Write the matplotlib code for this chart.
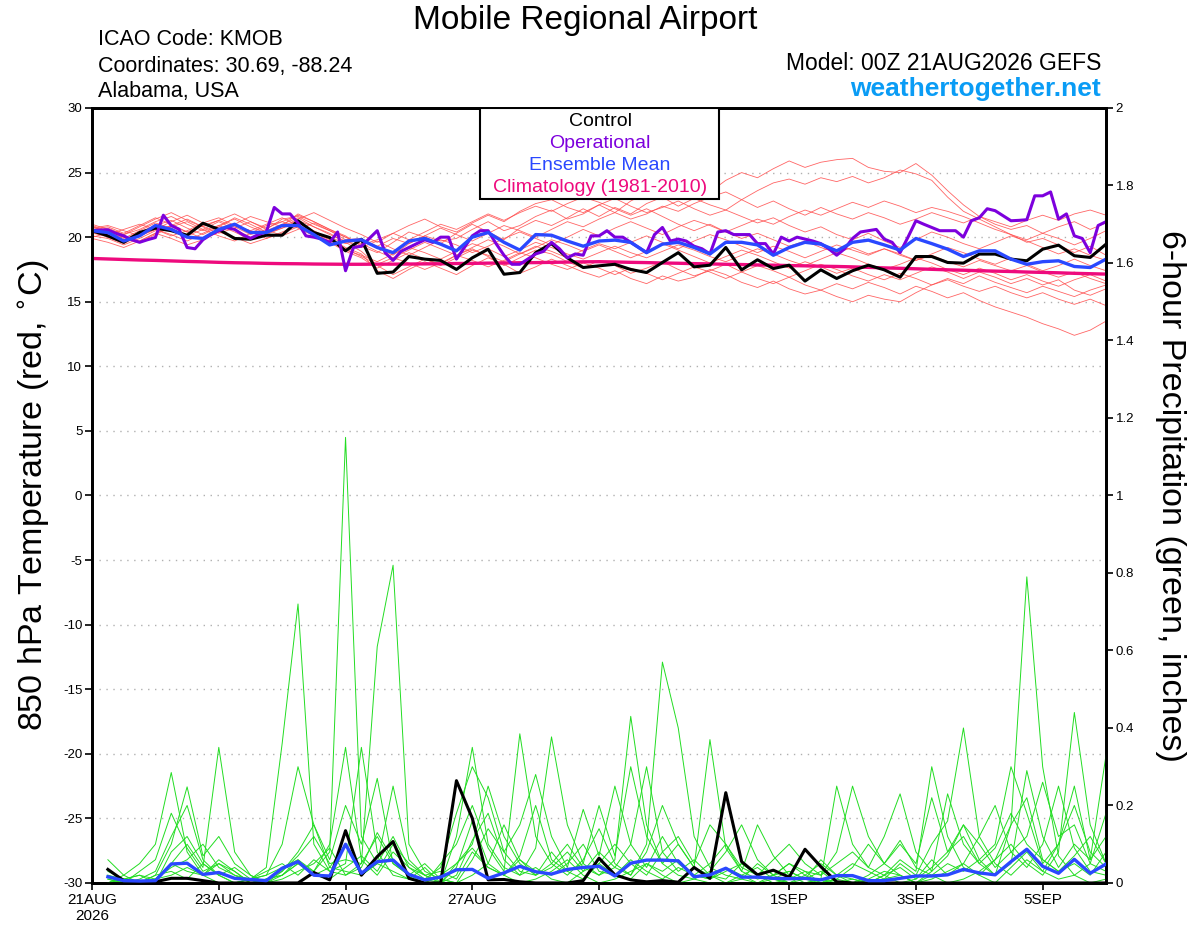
import numpy as np
import matplotlib
matplotlib.use("Agg")
import matplotlib.pyplot as plt
from matplotlib.patches import Rectangle

plt.rcParams['font.family'] = ['Liberation Sans', 'DejaVu Sans']

# forecast hours, 6-hourly (ensemble) and 3-hourly (operational)
hours = np.arange(0, 385, 6)
op_hours = np.arange(0, 385, 3)
precip_hours = hours[1:]

tick_hours = [0, 48, 96, 144, 192, 264, 312, 360]
tick_labels = ["21AUG\n2026", "23AUG", "25AUG", "27AUG", "29AUG", "1SEP", "3SEP", "5SEP"]

# 850 hPa temperature (C)
control_t = [20.5, 20.1, 19.6, 20.36, 20.7, 20.5, 20.15, 21.08, 20.6, 19.9, 19.84, 20.15, 20.15,
             21.27, 20.36, 19.97, 18.94, 19.84, 17.2, 17.3, 18.5, 18.3, 18.2, 17.5, 18.4, 19.07,
             17.13, 17.26, 18.8, 19.5, 18.4, 17.65, 17.78, 17.9, 17.5, 17.26, 18.04, 18.8, 17.7,
             17.83, 19.2, 17.47, 18.25, 17.57, 17.83, 16.6, 17.47, 16.8, 17.4, 17.83, 17.47, 16.9,
             18.5, 18.5, 18.04, 17.99, 18.69, 18.69, 18.3, 18.17, 19.07, 19.38, 18.56, 18.43, 19.46]

mean_t = [20.5, 20.36, 19.7, 20.1, 20.9, 20.6, 20.0, 19.9, 20.6, 21.0, 20.36, 20.36, 20.9, 20.9,
          20.2, 19.4, 19.7, 19.8, 19.2, 18.8, 19.7, 19.9, 19.46, 18.94, 20.0, 20.36, 19.6, 19.0,
          20.2, 20.15, 19.7, 19.3, 19.7, 19.77, 19.6, 18.8, 19.46, 19.6, 19.2, 18.7, 19.6, 19.6,
          19.4, 18.6, 19.2, 19.6, 19.46, 18.94, 19.6, 19.77, 19.4, 19.0, 19.9, 19.5, 19.07, 18.5,
          18.94, 18.94, 18.3, 17.9, 18.1, 18.17, 17.73, 17.65, 18.3]

clim_t = [18.35, 18.31, 18.27, 18.23, 18.2, 18.16, 18.12, 18.09, 18.05, 18.02, 18.0, 17.97, 17.95,
          17.94, 17.92, 17.91, 17.9, 17.9, 17.91, 17.91, 17.92, 17.93, 17.94, 17.96, 17.97, 17.99,
          18.0, 18.02, 18.03, 18.05, 18.07, 18.09, 18.1, 18.08, 18.05, 18.03, 18.0, 17.98, 17.95,
          17.93, 17.9, 17.88, 17.85, 17.83, 17.8, 17.78, 17.75, 17.73, 17.7, 17.66, 17.62, 17.59,
          17.55, 17.51, 17.47, 17.44, 17.4, 17.37, 17.34, 17.3, 17.27, 17.24, 17.2, 17.17, 17.14]

oper_t = [20.5, 20.55, 20.57, 20.3, 20.1, 19.8, 19.6, 19.8, 19.97, 21.7, 20.9, 20.6, 19.2, 19.1,
          19.8, 20.2, 20.5, 20.75, 20.6, 20.2, 19.9, 20.2, 20.4, 22.3, 21.8, 21.8, 21.1, 20.1, 20.0,
          19.85, 19.6, 20.4, 17.4, 19.2, 19.3, 19.9, 20.5, 18.8, 18.2, 18.9, 19.2, 19.5, 19.8, 19.6,
          20.0, 20.0, 18.3, 19.2, 20.1, 20.5, 20.5, 19.5, 18.6, 17.9, 17.9, 18.3, 18.7, 18.9, 19.6,
          19.1, 18.4, 18.7, 18.6, 20.1, 20.1, 20.5, 20.0, 20.0, 19.6, 19.2, 18.8, 20.2, 20.75, 19.7,
          19.85, 19.7, 19.3, 19.1, 18.7, 20.4, 20.5, 20.2, 20.2, 20.2, 19.5, 19.5, 18.7, 20.0, 19.7,
          20.0, 19.85, 19.7, 19.5, 19.1, 18.6, 19.1, 19.9, 20.4, 20.5, 20.6, 19.85, 19.6, 18.8, 20.0,
          21.27, 21.0, 20.75, 20.5, 20.5, 20.5, 20.0, 21.27, 21.5, 22.2, 22.05, 21.66, 21.27, 21.3,
          21.35, 23.2, 23.2, 23.5, 21.4, 21.8, 20.1, 19.9, 18.8, 20.9, 21.2]

# ensemble member temperatures
temp_m01 = [20.6, 20.8, 20.3, 20.9, 21.5, 21.0, 20.4, 20.9, 21.3, 20.8, 20.2, 20.6, 21.4, 21.6, 21.0, 20.5, 19.8,
            19.9, 19.2, 18.6, 19.5, 20.1, 19.7, 19.9, 20.6, 21.2, 20.5, 20.9, 21.6, 22.1, 21.4, 21.8, 22.5,
            21.9, 22.8, 23.4, 22.9, 23.6, 24.1, 23.5, 24.4, 25.0, 24.6, 25.3, 25.9, 25.4, 25.8, 26.0, 26.1,
            25.4, 25.1, 25.0, 25.7, 24.8, 23.6, 22.5, 21.6, 21.0, 20.6, 20.9, 20.3, 20.8, 21.2, 20.6, 21.1]
temp_m02 = [20.3, 20.1, 19.8, 20.4, 20.9, 21.3, 20.7, 20.2, 20.8, 21.5, 21.0, 20.4, 20.9, 21.8, 21.2, 20.6, 20.1,
            19.3, 18.8, 19.6, 20.4, 20.0, 19.5, 20.3, 21.0, 20.4, 19.8, 20.7, 21.3, 20.9, 21.5, 22.2, 21.6,
            22.3, 21.8, 22.6, 23.1, 22.4, 23.0, 22.5, 22.1, 22.9, 23.6, 24.2, 24.5, 24.1, 24.6, 24.3, 24.7,
            24.2, 24.6, 25.2, 24.9, 24.4, 23.1, 22.0, 21.4, 20.8, 20.2, 19.6, 19.9, 19.4, 18.8, 19.3, 18.6]
temp_m03 = [20.9, 20.5, 20.0, 19.6, 20.2, 20.8, 21.2, 20.6, 20.1, 19.7, 20.3, 20.9, 21.2, 20.7, 20.1, 19.6, 18.9,
            18.4, 17.6, 18.2, 18.8, 18.3, 17.9, 18.6, 19.1, 18.5, 17.8, 18.4, 19.0, 18.7, 18.1, 17.6, 18.2,
            17.8, 17.2, 17.6, 18.1, 17.5, 17.0, 17.4, 17.9, 17.3, 16.8, 16.4, 16.9, 16.3, 15.9, 16.4, 16.0,
            16.5, 16.1, 15.6, 16.2, 15.8, 15.3, 15.7, 15.1, 14.6, 14.2, 13.8, 13.3, 12.9, 12.4, 12.8, 13.5]
temp_m04 = [20.4, 20.0, 19.5, 20.1, 20.6, 20.2, 19.7, 20.3, 20.9, 20.4, 19.8, 20.2, 20.7, 21.1, 20.5, 19.9, 19.2,
            18.7, 17.4, 16.8, 17.5, 18.1, 17.6, 17.1, 17.8, 18.4, 17.9, 17.2, 17.7, 18.3, 17.8, 17.3, 16.9,
            17.4, 16.8, 16.4, 17.0, 16.6, 16.9, 17.5, 17.1, 16.5, 16.1, 16.6, 16.0, 15.6, 15.9, 15.4, 15.0,
            15.5, 15.2, 15.0, 15.7, 16.3, 16.8, 16.4, 17.0, 16.5, 16.1, 15.7, 16.2, 15.8, 15.4, 15.9, 16.3]
temp_m05 = [20.7, 20.9, 20.5, 20.1, 20.6, 21.2, 21.7, 21.1, 20.6, 21.0, 21.6, 21.2, 20.8, 21.4, 21.9, 21.3, 20.7,
            20.2, 19.6, 20.3, 20.9, 21.4, 20.8, 20.4, 21.1, 21.7, 21.2, 22.0, 22.6, 22.9, 22.3, 21.9, 22.5,
            23.0, 22.4, 21.9, 22.3, 22.8, 22.2, 21.7, 22.1, 21.6, 21.1, 21.5, 20.9, 20.4, 20.8, 20.2, 19.8,
            20.3, 19.7, 19.2, 19.8, 20.4, 20.0, 19.5, 19.1, 19.6, 20.1, 19.7, 19.2, 18.7, 19.1, 18.6, 18.2]
temp_m06 = [20.1, 19.9, 19.4, 19.9, 20.5, 20.9, 20.4, 19.9, 20.4, 20.9, 20.5, 19.9, 20.3, 20.8, 20.2, 19.7, 19.0,
            18.6, 18.1, 18.7, 19.2, 18.8, 18.3, 18.9, 19.5, 19.1, 18.5, 19.0, 19.6, 19.2, 18.7, 18.3, 18.8,
            19.3, 18.8, 18.4, 18.9, 19.4, 19.0, 18.5, 18.1, 18.6, 19.1, 18.7, 18.2, 17.8, 18.3, 18.8, 18.4,
            17.9, 17.5, 17.9, 18.4, 18.0, 17.5, 17.1, 17.6, 17.2, 16.7, 17.1, 16.6, 16.2, 16.7, 17.1, 16.6]
temp_m07 = [20.5, 20.2, 20.6, 21.0, 20.6, 20.1, 20.5, 21.1, 21.5, 20.9, 20.5, 21.0, 21.5, 20.9, 20.4, 20.0, 19.5,
            19.8, 19.3, 19.9, 19.5, 20.1, 20.7, 20.2, 19.7, 20.3, 20.9, 20.5, 20.0, 20.6, 21.2, 20.8, 21.4,
            21.9, 21.4, 21.8, 22.4, 22.0, 22.6, 23.1, 23.5, 22.9, 22.3, 22.8, 22.2, 21.7, 22.3, 21.8, 21.4,
            21.9, 21.5, 21.0, 21.4, 21.9, 21.5, 21.1, 21.6, 21.2, 20.8, 21.3, 21.7, 21.3, 21.8, 22.1, 21.7]
temp_m08 = [20.8, 20.4, 19.9, 20.5, 21.1, 20.7, 20.1, 20.6, 21.2, 20.6, 20.0, 20.5, 21.0, 21.5, 20.8, 20.3, 19.6,
            18.9, 17.8, 17.1, 17.7, 18.3, 17.8, 18.4, 19.0, 18.6, 18.1, 18.7, 19.3, 18.9, 18.4, 19.0, 19.5,
            19.1, 19.6, 20.1, 19.6, 19.1, 19.7, 20.2, 19.8, 19.3, 18.8, 19.3, 18.9, 18.4, 18.9, 19.4, 19.0,
            18.6, 19.1, 18.7, 18.2, 18.7, 19.2, 18.8, 18.3, 17.9, 18.4, 17.9, 17.4, 17.8, 18.3, 17.8, 17.4]
temp_m09 = [20.0, 20.3, 20.0, 19.7, 20.3, 20.9, 21.4, 20.8, 20.3, 20.7, 21.2, 20.6, 20.1, 20.6, 21.1, 20.5, 20.0,
            19.5, 18.9, 18.4, 19.0, 19.6, 19.1, 18.6, 19.2, 19.8, 19.3, 18.7, 19.2, 19.8, 19.4, 18.9, 19.4,
            18.9, 18.4, 18.9, 19.5, 19.0, 18.5, 18.0, 18.5, 19.0, 18.6, 18.1, 17.6, 18.1, 17.7, 17.2, 17.6,
            17.1, 16.7, 17.2, 16.8, 16.3, 16.7, 16.2, 15.8, 16.2, 15.7, 15.3, 15.7, 15.2, 14.8, 15.2, 14.7]
temp_m10 = [20.4, 20.7, 20.2, 20.6, 21.2, 21.6, 21.0, 20.5, 20.9, 21.4, 20.8, 20.3, 20.7, 21.3, 20.8, 20.2, 19.7,
            19.2, 19.7, 19.1, 18.6, 19.2, 19.8, 19.4, 18.8, 19.3, 19.9, 20.4, 19.9, 19.4, 20.0, 20.6, 20.1,
            20.7, 21.2, 20.7, 20.2, 20.8, 21.3, 20.9, 20.4, 20.9, 21.4, 21.0, 21.6, 22.1, 21.7, 22.2, 22.7,
            22.3, 22.8, 22.4, 21.9, 22.3, 22.0, 21.6, 21.1, 20.6, 20.2, 19.8, 20.3, 19.9, 19.4, 19.9, 20.5]
temp_m11 = [19.9, 19.6, 19.2, 19.7, 20.3, 19.9, 19.4, 19.8, 20.4, 20.0, 19.5, 19.9, 20.4, 20.9, 20.3, 19.8, 19.1,
            18.5, 17.9, 18.4, 18.0, 17.5, 18.0, 18.6, 18.2, 17.7, 18.2, 18.8, 18.4, 17.9, 17.5, 18.0, 17.6,
            17.1, 17.6, 17.2, 16.7, 17.2, 17.7, 17.3, 16.8, 17.3, 17.8, 17.4, 16.9, 17.4, 17.9, 17.5, 17.0,
            16.6, 17.1, 16.7, 17.2, 17.7, 17.3, 16.8, 17.3, 16.9, 16.4, 16.8, 16.3, 16.7, 15.9, 15.5, 16.0]
temp_m12 = [21.0, 20.6, 20.2, 20.8, 21.4, 21.9, 21.3, 20.8, 21.3, 21.8, 21.2, 20.7, 21.2, 21.7, 21.2, 20.6, 20.0,
            19.4, 19.8, 20.3, 19.8, 20.4, 21.0, 20.6, 21.2, 21.8, 21.3, 21.9, 22.4, 22.0, 22.6, 23.1, 22.7,
            22.2, 21.7, 22.2, 21.6, 21.0, 20.5, 21.0, 20.4, 19.9, 20.3, 19.8, 19.3, 19.7, 19.2, 18.8, 19.2,
            18.7, 19.1, 18.6, 18.2, 18.6, 18.1, 17.7, 18.2, 17.8, 17.4, 17.8, 17.3, 16.9, 17.3, 16.8, 16.4]

# 6-hour precipitation (inches), from hour 6
control_p = [0.035, 0.006, 0.003, 0.003, 0.012, 0.012, 0.006, 0.0, 0.0, 0.0, 0.0, 0.0, 0.0, 0.027, 0.008,
             0.135, 0.02, 0.068, 0.107, 0.012, 0.0, 0.0, 0.264, 0.167, 0.008, 0.009, 0.003, 0.0, 0.0, 0.0,
             0.006, 0.064, 0.021, 0.008, 0.003, 0.006, 0.002, 0.04, 0.012, 0.233, 0.055, 0.021, 0.033,
             0.015, 0.087, 0.042, 0.003, 0.0, 0.0, 0.0, 0.0, 0.0, 0.0, 0.0, 0.0, 0.0, 0.0, 0.0, 0.0, 0.0,
             0.0, 0.0, 0.0, 0.0]

mean_p = [0.016, 0.006, 0.005, 0.006, 0.049, 0.051, 0.022, 0.027, 0.012, 0.009, 0.006, 0.038, 0.055,
          0.02, 0.018, 0.1, 0.025, 0.055, 0.059, 0.022, 0.008, 0.015, 0.034, 0.035, 0.012, 0.026, 0.043,
          0.029, 0.023, 0.035, 0.04, 0.043, 0.018, 0.051, 0.059, 0.059, 0.057, 0.016, 0.021, 0.038, 0.015,
          0.015, 0.012, 0.011, 0.012, 0.008, 0.019, 0.019, 0.006, 0.006, 0.012, 0.018, 0.018, 0.021,
          0.035, 0.026, 0.021, 0.055, 0.087, 0.043, 0.025, 0.061, 0.025, 0.049]

precip_m01 = [0.02, 0.0, 0.0, 0.01, 0.05, 0.03, 0.02, 0.0, 0.0, 0.01, 0.02, 0.04, 0.06, 0.03, 0.08, 1.15,
              0.12, 0.05, 0.03, 0.01, 0.0, 0.02, 0.05, 0.09, 0.04, 0.02, 0.0, 0.01, 0.03, 0.06, 0.02, 0.0,
              0.01, 0.03, 0.05, 0.02, 0.0, 0.01, 0.0, 0.0, 0.02, 0.04, 0.01, 0.0, 0.0, 0.01, 0.0, 0.0,
              0.0, 0.01, 0.02, 0.0, 0.01, 0.03, 0.05, 0.02, 0.0, 0.04, 0.08, 0.03, 0.01, 0.02, 0.0, 0.01]
precip_m02 = [0.0, 0.01, 0.02, 0.0, 0.08, 0.12, 0.05, 0.02, 0.0, 0.01, 0.04, 0.36, 0.72, 0.1, 0.03, 0.05,
              0.35, 0.08, 0.02, 0.01, 0.04, 0.0, 0.02, 0.11, 0.18, 0.06, 0.02, 0.04, 0.01, 0.0, 0.03, 0.08,
              0.04, 0.02, 0.1, 0.57, 0.4, 0.12, 0.04, 0.02, 0.01, 0.0, 0.02, 0.05, 0.03, 0.0, 0.01, 0.0,
              0.02, 0.05, 0.11, 0.04, 0.02, 0.0, 0.01, 0.03, 0.06, 0.15, 0.79, 0.3, 0.07, 0.02, 0.05, 0.03]
precip_m03 = [0.01, 0.0, 0.03, 0.06, 0.18, 0.09, 0.03, 0.05, 0.02, 0.0, 0.01, 0.03, 0.07, 0.12, 0.05, 0.06,
              0.05, 0.61, 0.82, 0.1, 0.03, 0.01, 0.0, 0.06, 0.14, 0.08, 0.03, 0.02, 0.05, 0.1, 0.04, 0.02,
              0.06, 0.43, 0.15, 0.05, 0.02, 0.01, 0.03, 0.08, 0.15, 0.06, 0.02, 0.0, 0.01, 0.03, 0.0, 0.01,
              0.0, 0.02, 0.06, 0.03, 0.3, 0.12, 0.04, 0.02, 0.06, 0.1, 0.05, 0.02, 0.08, 0.44, 0.15, 0.05]
precip_m04 = [0.06, 0.02, 0.0, 0.01, 0.05, 0.1, 0.04, 0.35, 0.08, 0.02, 0.0, 0.01, 0.03, 0.05, 0.09, 0.02,
              0.04, 0.13, 0.06, 0.02, 0.0, 0.05, 0.1, 0.2, 0.09, 0.03, 0.385, 0.12, 0.05, 0.02, 0.06, 0.14,
              0.05, 0.02, 0.08, 0.2, 0.1, 0.04, 0.37, 0.09, 0.03, 0.01, 0.02, 0.05, 0.02, 0.0, 0.01, 0.04,
              0.1, 0.05, 0.02, 0.0, 0.03, 0.07, 0.15, 0.06, 0.02, 0.05, 0.29, 0.12, 0.04, 0.1, 0.06, 0.33]
precip_m05 = [0.0, 0.02, 0.05, 0.1, 0.285, 0.08, 0.02, 0.05, 0.03, 0.0, 0.01, 0.02, 0.05, 0.03, 0.1, 0.35,
              0.06, 0.02, 0.08, 0.04, 0.01, 0.0, 0.12, 0.35, 0.1, 0.04, 0.02, 0.09, 0.377, 0.15, 0.05, 0.02,
              0.04, 0.1, 0.3, 0.08, 0.03, 0.06, 0.02, 0.0, 0.01, 0.05, 0.02, 0.03, 0.01, 0.0, 0.02, 0.05,
              0.03, 0.01, 0.05, 0.02, 0.1, 0.16, 0.4, 0.12, 0.05, 0.02, 0.06, 0.03, 0.1, 0.2, 0.08, 0.04]
precip_m06 = [0.03, 0.01, 0.0, 0.02, 0.1, 0.248, 0.07, 0.12, 0.05, 0.02, 0.0, 0.03, 0.08, 0.15, 0.04, 0.1,
              0.02, 0.05, 0.25, 0.06, 0.02, 0.0, 0.04, 0.16, 0.05, 0.02, 0.07, 0.2, 0.06, 0.03, 0.01, 0.05,
              0.02, 0.06, 0.03, 0.01, 0.04, 0.02, 0.05, 0.1, 0.03, 0.15, 0.07, 0.02, 0.0, 0.01, 0.25, 0.1,
              0.04, 0.12, 0.23, 0.08, 0.03, 0.23, 0.1, 0.05, 0.02, 0.15, 0.22, 0.06, 0.03, 0.07, 0.12, 0.05]
precip_m07 = [0.0, 0.01, 0.02, 0.01, 0.04, 0.06, 0.1, 0.04, 0.02, 0.01, 0.0, 0.02, 0.06, 0.02, 0.01, 0.04,
              0.07, 0.03, 0.1, 0.05, 0.02, 0.03, 0.01, 0.08, 0.04, 0.02, 0.06, 0.03, 0.02, 0.05, 0.1, 0.03,
              0.02, 0.01, 0.05, 0.03, 0.06, 0.02, 0.01, 0.03, 0.05, 0.02, 0.0, 0.01, 0.03, 0.02, 0.05, 0.08,
              0.04, 0.02, 0.0, 0.01, 0.04, 0.08, 0.12, 0.05, 0.09, 0.18, 0.1, 0.06, 0.03, 0.05, 0.02, 0.08]
precip_m08 = [0.01, 0.0, 0.0, 0.02, 0.03, 0.01, 0.05, 0.02, 0.0, 0.01, 0.03, 0.05, 0.02, 0.06, 0.03, 0.02,
              0.05, 0.12, 0.05, 0.02, 0.01, 0.04, 0.18, 0.3, 0.22, 0.08, 0.15, 0.28, 0.12, 0.04, 0.19, 0.07,
              0.25, 0.1, 0.04, 0.12, 0.05, 0.02, 0.01, 0.04, 0.02, 0.0, 0.01, 0.03, 0.01, 0.06, 0.02, 0.01,
              0.0, 0.02, 0.04, 0.01, 0.06, 0.02, 0.05, 0.12, 0.2, 0.08, 0.04, 0.1, 0.25, 0.09, 0.03, 0.02]
precip_m09 = [0.0, 0.0, 0.01, 0.03, 0.12, 0.2, 0.06, 0.02, 0.04, 0.01, 0.02, 0.1, 0.3, 0.15, 0.06, 0.2,
              0.1, 0.27, 0.05, 0.02, 0.05, 0.01, 0.0, 0.02, 0.05, 0.15, 0.06, 0.02, 0.08, 0.03, 0.05, 0.2,
              0.07, 0.3, 0.12, 0.05, 0.1, 0.04, 0.02, 0.01, 0.05, 0.02, 0.01, 0.0, 0.02, 0.05, 0.02, 0.0,
              0.01, 0.03, 0.02, 0.0, 0.02, 0.05, 0.03, 0.06, 0.1, 0.3, 0.18, 0.05, 0.1, 0.25, 0.06, 0.12]
precip_m10 = [0.02, 0.01, 0.0, 0.01, 0.02, 0.04, 0.02, 0.06, 0.03, 0.0, 0.01, 0.02, 0.05, 0.02, 0.04, 0.03,
              0.02, 0.05, 0.12, 0.04, 0.02, 0.0, 0.05, 0.1, 0.25, 0.12, 0.05, 0.02, 0.04, 0.08, 0.03, 0.05,
              0.1, 0.05, 0.02, 0.08, 0.12, 0.05, 0.15, 0.1, 0.04, 0.02, 0.06, 0.1, 0.05, 0.02, 0.08, 0.25,
              0.12, 0.05, 0.1, 0.05, 0.22, 0.08, 0.15, 0.1, 0.04, 0.08, 0.12, 0.26, 0.12, 0.15, 0.05, 0.18]

temp_members = [temp_m01, temp_m02, temp_m03, temp_m04, temp_m05, temp_m06,
                temp_m07, temp_m08, temp_m09, temp_m10, temp_m11, temp_m12]
precip_members = [precip_m01, precip_m02, precip_m03, precip_m04, precip_m05,
                  precip_m06, precip_m07, precip_m08, precip_m09, precip_m10]

fig = plt.figure(figsize=(12, 9.27), dpi=100)
ax = fig.add_axes([0.0767, 0.0475, 0.845, 0.836])
ax2 = ax.twinx()

for m in temp_members:
    ax.plot(hours, m, color='#ff4a4a', lw=0.6, alpha=0.85, zorder=2)
ax.plot(hours, clim_t, color='#ee0a7d', lw=2.4, zorder=3)
ax.plot(hours, control_t, color='black', lw=2.2, zorder=4)
ax.plot(op_hours, oper_t, color='#7d00dd', lw=2.2, zorder=5)
ax.plot(hours, mean_t, color='#2a48ff', lw=2.4, zorder=6)

for m in precip_members:
    ax2.plot(precip_hours, m, color='#22dd22', lw=0.7, zorder=2)
ax2.plot(precip_hours, control_p, color='black', lw=2.2, zorder=4)
ax2.plot(precip_hours, mean_p, color='#2a48ff', lw=2.4, zorder=5)

ax.set_xlim(0, 384)
ax.set_ylim(-30, 30)
ax2.set_ylim(0, 2)

ax.set_yticks(np.arange(-30, 31, 5))
ax.set_yticklabels([f"{v:g}" for v in np.arange(-30, 31, 5)], fontsize=9.5)
r_ticks = np.round(np.arange(0, 2.01, 0.2), 1)
ax2.set_yticks(r_ticks)
ax2.set_yticklabels([f"{v:g}" for v in r_ticks], fontsize=9.5)
ax.set_xticks(tick_hours)
ax.set_xticklabels(tick_labels, fontsize=11)

for gy in range(-25, 30, 5):
    ax.axhline(gy, color='#b0b0b0', lw=1.0, ls=(0, (1, 4)), zorder=1)

for a in (ax, ax2):
    a.tick_params(direction='out', length=5, width=1.2, pad=2)
    for s in a.spines.values():
        s.set_linewidth(2.0)

ax.set_ylabel("850 hPa Temperature (red, $^{\\circ}$C)", fontsize=24.5, labelpad=7)
ax2.set_ylabel("6-hour Precipitation (green, inches)", fontsize=24.5, rotation=-90, labelpad=37)

# legend box
box = Rectangle((0.3826, 0.8826), 0.2357, 0.1174, transform=ax2.transAxes,
                facecolor='white', edgecolor='black', lw=1.5, zorder=10)
ax2.add_patch(box)
legend_items = [("Control", 'black'), ("Operational", '#7d00dd'),
                ("Ensemble Mean", '#2a48ff'), ("Climatology (1981-2010)", '#ee0a7d')]
for k, (txt, col) in enumerate(legend_items):
    ax2.text(0.501, 0.983 - k * 0.0285, txt, color=col, fontsize=14, ha='center', va='center',
             transform=ax2.transAxes, zorder=11)

fig.text(0.4875, 0.978, "Mobile Regional Airport", fontsize=24, ha='center', va='center')
fig.text(0.0817, 0.9569, "ICAO Code: KMOB", fontsize=15.5, ha='left', va='center')
fig.text(0.0817, 0.9288, "Coordinates: 30.69, -88.24", fontsize=15.5, ha='left', va='center')
fig.text(0.0817, 0.9008, "Alabama, USA", fontsize=15.5, ha='left', va='center')
fig.text(0.9175, 0.932, "Model: 00Z 21AUG2026 GEFS", fontsize=16.5, ha='right', va='center')
fig.text(0.9175, 0.904, "weathertogether.net", fontsize=19, fontweight='bold',
         color='#0a9cf5', ha='right', va='center')

fig.savefig("out.png", dpi=100)
